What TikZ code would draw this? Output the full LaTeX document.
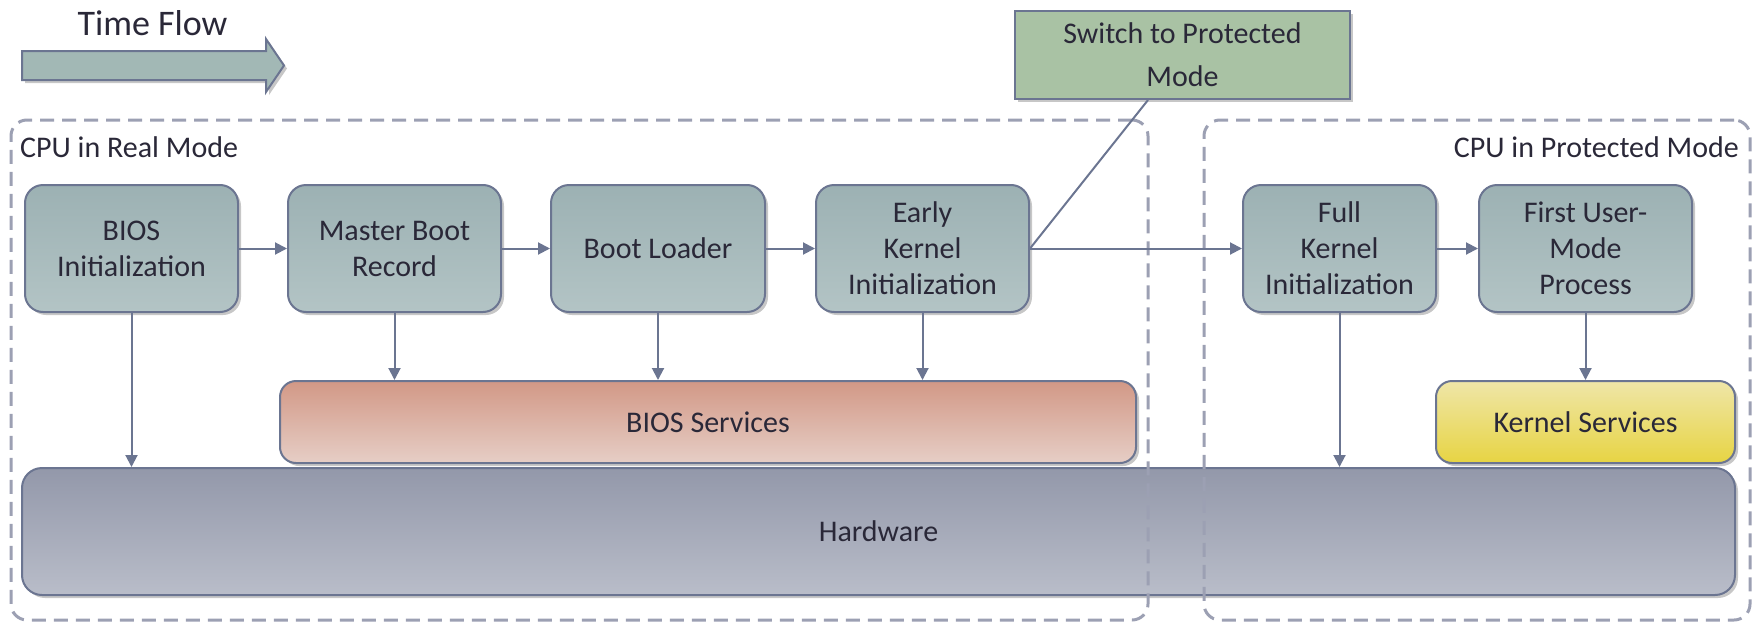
\documentclass[tikz,border=0pt]{standalone}
\usepackage{fontspec}
\setmainfont{Carlito}
\usetikzlibrary{arrows.meta,shadows}
\definecolor{slate}{HTML}{6B7591}
\definecolor{dashc}{HTML}{9CA0B3}
\definecolor{boxtop}{HTML}{9CB1B3}
\definecolor{boxbot}{HTML}{B3C4C5}
\definecolor{arrowc}{HTML}{A2B8B5}
\definecolor{switchc}{HTML}{A9C2A4}
\definecolor{biostop}{HTML}{D29886}
\definecolor{biosbot}{HTML}{E6CEC6}
\definecolor{kerntop}{HTML}{EFE6A8}
\definecolor{kernbot}{HTML}{E7D443}
\definecolor{hwtop}{HTML}{9398AA}
\definecolor{hwbot}{HTML}{B9BDC9}
\definecolor{txt}{HTML}{2A2838}
\begin{document}
\begin{tikzpicture}[x=1pt,y=-1pt,
  shad/.style={drop shadow={shadow xshift=3pt,shadow yshift=-3pt,opacity=.22,fill=black}},
  stepbox/.style={draw=slate, line width=2pt, rounded corners=18pt, top color=boxtop, bottom color=boxbot,
    align=center, text=txt, font=\fontsize{30}{36}\selectfont, inner sep=0pt,
    minimum height=127pt, shad},
  svcbox/.style={draw=slate, line width=2pt, rounded corners=16pt, align=center, text=txt,
    font=\fontsize{30}{36}\selectfont, inner sep=0pt, minimum height=82pt, shad},
  conn/.style={draw=slate, line width=2pt, -{Triangle[length=12pt,width=12pt]}},
  plain/.style={draw=slate, line width=2pt},
  region/.style={draw=dashc, line width=3pt, dash pattern=on 14pt off 8pt, rounded corners=16pt, inner sep=0pt},
  lbl/.style={text=txt, font=\fontsize{30}{36}\selectfont, inner sep=0pt}
]
\useasboundingbox (0,0) rectangle (1759,624);

% time flow
\node[lbl, font=\fontsize{36}{40}\selectfont, anchor=base] (tf) at (152.5,35) {Time Flow};
\draw[slate, line width=2pt, fill=arrowc, shad] (22,51) -- (266,51) -- (266,39) -- (284,65.5) -- (266,92) -- (266,80) -- (22,80) -- cycle;

% hardware and services
\node[svcbox, rounded corners=20pt, top color=hwtop, bottom color=hwbot, minimum width=1713pt, minimum height=127pt] (hw) at (878.5,531.5) {Hardware};
\node[svcbox, top color=biostop, bottom color=biosbot, minimum width=856pt] (biossvc) at (708,422) {BIOS Services};
\node[svcbox, top color=kerntop, bottom color=kernbot, minimum width=299pt] (kernsvc) at (1585.5,422) {Kernel Services};

% regions
\node[region, minimum width=1137pt, minimum height=500pt] (real) at (579.5,370) {};
\node[region, minimum width=546pt, minimum height=500pt] (prot) at (1477,370) {};
\node[lbl, anchor=base west] (reallbl) at (20,157) {CPU in Real Mode};
\node[lbl, anchor=base east] (protlbl) at (1739,157) {CPU in Protected Mode};

% steps
\node[stepbox, minimum width=213pt] (bios) at (131.5,248.5) {BIOS\\Initialization};
\node[stepbox, minimum width=213pt] (mbr) at (394.5,248.5) {Master Boot\\Record};
\node[stepbox, minimum width=214pt] (boot) at (658,248.5) {Boot Loader};
\node[stepbox, minimum width=213pt] (early) at (922.5,248.5) {Early\\Kernel\\Initialization};
\node[stepbox, minimum width=193pt] (full) at (1339.5,248.5) {Full\\Kernel\\Initialization};
\node[stepbox, minimum width=213pt] (first) at (1585.5,248.5) {First User-\\Mode\\Process};

\node[draw=slate, line width=2pt, fill=switchc, text=txt, align=center, inner sep=0pt,
  font=\fontsize{30}{43}\selectfont, minimum width=335pt, minimum height=88pt, shad] (switch) at (1182.5,55) {Switch to Protected\\Mode};

% connectors
\draw[conn] (bios) -- (mbr);
\draw[conn] (mbr) -- (boot);
\draw[conn] (boot) -- (early);
\draw[conn] (early.east) -- (full.west);
\draw[conn] (full) -- (first);
\draw[plain] (early.east) -- ([xshift=-34.5pt]switch.south);
\draw[conn] (bios.south) -- (bios.south |- hw.north);
\draw[conn] (mbr.south) -- (mbr.south |- biossvc.north);
\draw[conn] (boot.south) -- (boot.south |- biossvc.north);
\draw[conn] (early.south) -- (early.south |- biossvc.north);
\draw[conn] (full.south) -- (full.south |- hw.north);
\draw[conn] (first.south) -- (kernsvc.north);
\end{tikzpicture}
\end{document}
